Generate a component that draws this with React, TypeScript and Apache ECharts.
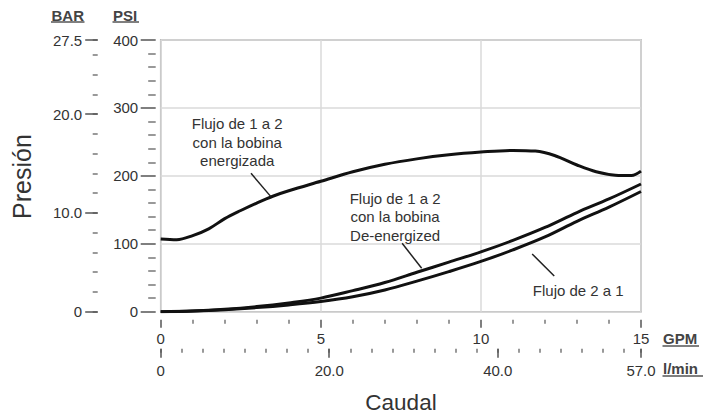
import React, { useEffect, useRef } from "react";
import * as echarts from "echarts";

// ---- data ----
const gpmEnergized = [0, 0.5, 1, 1.5, 2, 2.5, 3, 3.5, 4, 5, 6, 7, 8, 9, 10, 11, 11.7, 12.3, 13, 13.6, 14.2, 14.7, 15];
const psiEnergized = [107, 106, 112, 122, 137, 149, 160, 170, 178, 192, 206, 217, 225, 231, 235, 237.5, 236.5, 230, 216, 206, 201, 200.5, 207];

const gpmLow = [0, 1, 2, 3, 4, 5, 6, 7, 8, 9, 10, 11, 12, 13, 14, 15];
const psiDeEnergized = [0, 1, 3.5, 7.5, 13, 20, 31, 43, 58, 73, 88, 105, 124, 146, 166, 188];
const psi2a1 = [0, 1, 3, 6, 10, 15, 22, 32, 45, 59, 74, 91, 110, 133, 154, 177];

// tick values
const barMajor = [0, 10, 20, 27.5];
const lpmMajor = [0, 20, 40, 57];

// annotations (in data coordinates: GPM, PSI)
const labelTexts = [
  "Flujo de 1 a 2\ncon la bobina\nenergizada",
  "Flujo de 1 a 2\ncon la bobina\nDe-energized",
  "Flujo de 2 a 1",
];
const labelCoords = [
  [2.39, 249.5],
  [7.32, 139.5],
  [13.04, 31],
];
const leaderFrom = [
  [2.82, 203.8],
  [7.54, 100.7],
  [11.6, 85],
];
const leaderTo = [
  [3.44, 169.4],
  [8.15, 63.9],
  [12.29, 52.6],
];

const FONT = "'Liberation Sans', Arial, Helvetica, sans-serif";
const TXT = "#333";
const TICK = "#555";
const MINOR = "#777";

const pairs = (xs: number[], ys: number[]) => xs.map((x, i) => [x, ys[i]]);
const fmt1 = (v: number) => (v === 0 ? "0" : v.toFixed(1));

export default function App() {
  const ref = useRef<HTMLDivElement>(null);

  useEffect(() => {
    if (!ref.current) return;
    const chart = echarts.init(ref.current, null, { renderer: "svg" });

    const lineSeries = (name: string, data: number[][], extra: any = {}) => ({
      name,
      type: "line",
      xAxisIndex: 0,
      yAxisIndex: 0,
      data,
      smooth: 0.35,
      showSymbol: false,
      symbol: "none",
      lineStyle: { color: "#111", width: 3 },
      silent: true,
      ...extra,
    });

    // invisible helper series that binds the secondary (unit-conversion) axes,
    // so that the library builds their ticks
    const helper = (xi: number, yi: number, data: number[][]) => ({
      type: "scatter",
      xAxisIndex: xi,
      yAxisIndex: yi,
      data,
      symbolSize: 0,
      itemStyle: { opacity: 0 },
      silent: true,
      tooltip: { show: false },
    });

    const tickOnlyAxis = (min: number, max: number, interval: number, offset: number, length: number, color: string) => ({
      type: "value",
      min,
      max,
      interval,
      offset,
      axisLine: { show: false, onZero: false },
      axisTick: { show: true, length, lineStyle: { color, width: 1.5 } },
      axisLabel: { show: false },
      splitLine: { show: false },
    });

    const option: any = {
      animation: false,
      textStyle: { fontFamily: FONT },
      grid: {
        left: 160.7,
        right: 83,
        top: 40,
        bottom: 106.3,
        show: true,
        borderColor: "#9c9c9c",
        borderWidth: 1.5,
        containLabel: false,
      },
      xAxis: [
        {
          type: "value",
          min: 0,
          max: 15,
          interval: 5,
          position: "bottom",
          offset: 8,
          axisLine: { show: false, onZero: false },
          axisTick: { show: true, length: 8, lineStyle: { color: TICK, width: 1.5 } },
          minorTick: { show: true, splitNumber: 5, length: 4, lineStyle: { color: MINOR, width: 1.5 } },
          axisLabel: { margin: 11, fontSize: 15, color: TXT, fontFamily: FONT },
          splitLine: { show: true, lineStyle: { color: "#dadada", width: 1.5 } },
        },
        // l/min minor ticks (every 2.5)
        { ...tickOnlyAxis(0, 57, 2.5, 37, 4, MINOR), position: "bottom" },
        // l/min major ticks + labels
        {
          type: "value",
          min: 0,
          max: 57,
          interval: 20,
          position: "bottom",
          offset: 37,
          axisLine: { show: false, onZero: false },
          axisTick: { show: true, length: 9, lineStyle: { color: TICK, width: 1.5 } },
          axisLabel: {
            customValues: lpmMajor,
            margin: 14.5,
            fontSize: 15,
            color: TXT,
            fontFamily: FONT,
            formatter: (v: number) => fmt1(v),
          },
          splitLine: { show: false },
        },
      ],
      yAxis: [
        {
          type: "value",
          min: 0,
          max: 400,
          interval: 100,
          position: "left",
          offset: 5,
          axisLine: { show: false, onZero: false },
          axisTick: { show: true, length: 15, lineStyle: { color: TICK, width: 1.5 } },
          minorTick: { show: true, splitNumber: 5, length: 7.5, lineStyle: { color: MINOR, width: 1.5 } },
          axisLabel: { margin: 17.5, fontSize: 15, color: TXT, fontFamily: FONT },
          splitLine: { show: true, lineStyle: { color: "#dadada", width: 1.5 } },
        },
        // BAR minor ticks (every 2)
        { ...tickOnlyAxis(0, 27.5, 2, 63, 5, MINOR), position: "left" },
        // BAR major ticks + labels
        {
          type: "value",
          min: 0,
          max: 27.5,
          interval: 10,
          position: "left",
          offset: 63,
          axisLine: { show: false, onZero: false },
          axisTick: { show: true, length: 12.5, lineStyle: { color: TICK, width: 1.5 } },
          axisLabel: {
            customValues: barMajor,
            margin: 15.5,
            fontSize: 15,
            color: TXT,
            fontFamily: FONT,
            formatter: (v: number) => fmt1(v),
          },
          splitLine: { show: false },
        },
      ],
      series: [
        lineSeries("Flujo de 1 a 2 con la bobina energizada", pairs(gpmEnergized, psiEnergized), {
          markPoint: {
            silent: true,
            symbol: "circle",
            symbolSize: 1,
            itemStyle: { color: "rgba(0,0,0,0)" },
            label: {
              show: true,
              position: "inside",
              color: TXT,
              fontSize: 15,
              lineHeight: 18.3,
              align: "center",
              fontFamily: FONT,
            },
            data: labelTexts.map((t, i) => ({
              coord: labelCoords[i],
              label: { formatter: t },
            })),
          },
          markLine: {
            silent: true,
            symbol: ["none", "none"],
            lineStyle: { color: "#222", width: 1.5, type: "solid" },
            label: { show: false },
            emphasis: { disabled: true },
            data: leaderFrom.map((f, i) => [{ coord: f }, { coord: leaderTo[i] }]),
          },
        }),
        lineSeries("Flujo de 1 a 2 con la bobina De-energized", pairs(gpmLow, psiDeEnergized)),
        lineSeries("Flujo de 2 a 1", pairs(gpmLow, psi2a1)),
        helper(1, 0, lpmMajor.map((v) => [v, 0])),
        helper(2, 0, lpmMajor.map((v) => [v, 0])),
        helper(0, 1, barMajor.map((v) => [0, v])),
        helper(0, 2, barMajor.map((v) => [0, v])),
      ],
      graphic: [
        {
          type: "text",
          x: 21.5,
          y: 176.5,
          rotation: Math.PI / 2,
          style: {
            text: "Presión",
            fill: "#333",
            font: `25px ${FONT}`,
            align: "center",
            verticalAlign: "middle",
          },
        },
        {
          type: "text",
          x: 401,
          y: 402,
          style: {
            text: "Caudal",
            fill: "#333",
            font: `22.5px ${FONT}`,
            align: "center",
            verticalAlign: "middle",
          },
        },
        {
          type: "text",
          x: 51.5,
          y: 15,
          style: { text: "BAR", fill: "#444", font: `bold 15px ${FONT}`, align: "left", verticalAlign: "middle" },
        },
        { type: "line", shape: { x1: 51, y1: 22, x2: 84.5, y2: 22 }, style: { stroke: "#555", lineWidth: 1.5 } },
        {
          type: "text",
          x: 113,
          y: 15,
          style: { text: "PSI", fill: "#444", font: `bold 15px ${FONT}`, align: "left", verticalAlign: "middle" },
        },
        { type: "line", shape: { x1: 112.5, y1: 22, x2: 139, y2: 22 }, style: { stroke: "#555", lineWidth: 1.5 } },
        {
          type: "text",
          x: 663,
          y: 338.5,
          style: { text: "GPM", fill: "#444", font: `bold 15px ${FONT}`, align: "left", verticalAlign: "middle" },
        },
        { type: "line", shape: { x1: 662.5, y1: 346, x2: 699, y2: 346 }, style: { stroke: "#555", lineWidth: 1.5 } },
        {
          type: "text",
          x: 663,
          y: 368.5,
          style: { text: "l/min", fill: "#444", font: `bold 15px ${FONT}`, align: "left", verticalAlign: "middle" },
        },
        { type: "line", shape: { x1: 662.5, y1: 376, x2: 703, y2: 376 }, style: { stroke: "#555", lineWidth: 1.5 } },
      ],
    };

    chart.setOption(option);
    return () => chart.dispose();
  }, []);

  return (
    <div
      ref={ref}
      style={{ position: "fixed", left: 0, top: 0, width: 724, height: 418, background: "#fff" }}
    />
  );
}
